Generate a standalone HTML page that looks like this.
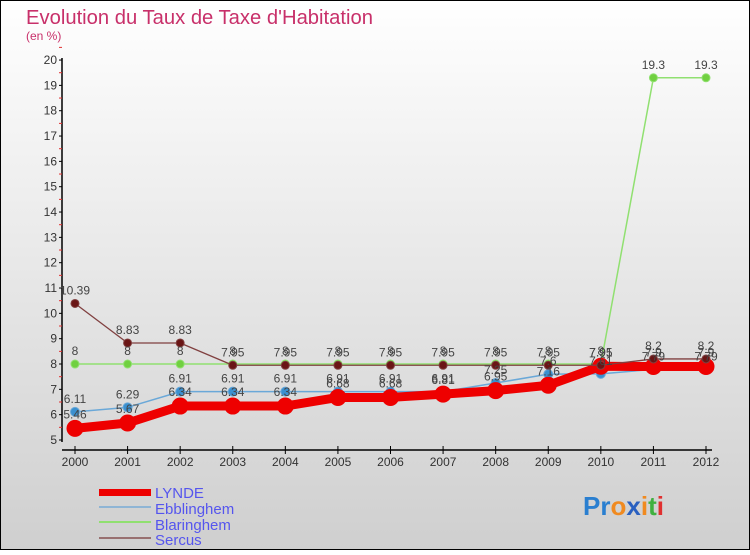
<!DOCTYPE html>
<html><head><meta charset="utf-8"><style>
html,body{margin:0;padding:0;}
body{width:750px;height:550px;overflow:hidden;font-family:"Liberation Sans",sans-serif;}
</style></head><body>
<svg id="chart" width="750" height="550" xmlns="http://www.w3.org/2000/svg" font-family="Liberation Sans, sans-serif">
<defs><linearGradient id="bg" x1="0" y1="0" x2="0" y2="1"><stop offset="0" stop-color="#ffffff"/><stop offset="1" stop-color="#cfcfcf"/></linearGradient></defs>
<rect x="0" y="0" width="750" height="550" fill="url(#bg)" stroke="#000" stroke-width="2"/>
<text x="26" y="24" font-size="20" fill="#c8306a" textLength="347" lengthAdjust="spacingAndGlyphs">Evolution du Taux de Taxe d'Habitation</text>
<text x="26" y="40" font-size="12" fill="#c8306a">(en %)</text>
<g id="axes"></g><g id="series"></g><g id="labels"></g>
<g>
<rect x="99" y="489" width="52" height="7" fill="#ee0000"/>
<line x1="99" y1="507" x2="151" y2="507" stroke="#8fb5d5" stroke-width="2"/>
<line x1="99" y1="522" x2="151" y2="522" stroke="#90e070" stroke-width="2"/>
<line x1="99" y1="538" x2="151" y2="538" stroke="#987070" stroke-width="2"/>
<text x="155" y="498" font-size="15" fill="#5555ee">LYNDE</text>
<text x="155" y="514" font-size="15" fill="#5555ee">Ebblinghem</text>
<text x="155" y="530" font-size="15" fill="#5555ee">Blaringhem</text>
<text x="155" y="545" font-size="15" fill="#5555ee">Sercus</text>
</g>
<text x="583" y="515" font-size="26" font-weight="bold"><tspan fill="#2a7fd0">Pr</tspan><tspan fill="#f08a20">o</tspan><tspan fill="#2a60c0">x</tspan><tspan fill="#f08a20">i</tspan><tspan fill="#40b040">t</tspan><tspan fill="#e03030">i</tspan></text>
</svg>
<script>
const years=[2000,2001,2002,2003,2004,2005,2006,2007,2008,2009,2010,2011,2012];
const yTicks=[5,6,7,8,9,10,11,12,13,14,15,16,17,18,19,20];
const lynde=[5.46,5.67,6.34,6.34,6.34,6.68,6.68,6.81,6.95,7.16,7.91,7.9,7.9];
const ebbl=[6.11,6.29,6.91,6.91,6.91,6.91,6.91,6.91,7.25,7.6,7.61,7.79,7.79];
const blar=[8,8,8,8,8,8,8,8,8,8,8,19.3,19.3];
const sercus=[10.39,8.83,8.83,7.95,7.95,7.95,7.95,7.95,7.95,7.95,7.95,8.2,8.2];
const lyndeLbl=["5.46","5.67","6.34","6.34","6.34","6.68","6.68","6.81","6.95","7.16","7.91","7.9","7.9"];
const ebblLbl=["6.11","6.29","6.91","6.91","6.91","6.91","6.91","6.91","7.25","7.6","7.61","7.79","7.79"];
const blarLbl=["8","8","8","8","8","8","8","8","8","8","8","19.3","19.3"];
const sercusLbl=["10.39","8.83","8.83","7.95","7.95","7.95","7.95","7.95","7.95","7.95","7.95","8.2","8.2"];
const NS="http://www.w3.org/2000/svg";
const X=i=>75+i*(706-75)/(years.length-1);
const Y=v=>440-(v-5)*25.33;
function mk(tag,attrs,parent){const e=document.createElementNS(NS,tag);for(const k in attrs)e.setAttribute(k,attrs[k]);document.getElementById(parent).appendChild(e);return e;}
let ax=mk('line',{x1:62,y1:Y(20)-2,x2:62,y2:Y(5)+2,stroke:'#000','stroke-width':1.5},'axes');


let bx=mk('line',{x1:62,y1:450,x2:712,y2:450,stroke:'#000','stroke-width':1.5},'axes');


yTicks.forEach(v=>{
  mk('line',{x1:59,y1:Y(v),x2:62,y2:Y(v),stroke:'#000'},'axes');
  mk('line',{x1:59,y1:Y(v+0.5),x2:62,y2:Y(v+0.5),stroke:'#e03030'},'axes');
  const t=mk('text',{x:57,y:Y(v)+4,'font-size':12,'text-anchor':'end',fill:'#333'},'axes');t.textContent=v;
  
  
});
years.forEach((yr,i)=>{
  mk('line',{x1:X(i),y1:446,x2:X(i),y2:454,stroke:'#000'},'axes');
  const t=mk('text',{x:X(i),y:466,'font-size':12,'text-anchor':'middle',fill:'#333'},'axes');t.textContent=yr;
  
  
});
function series(vals,lbls,color,dot,w,r,name,dy){
  const p=mk('polyline',{points:vals.map((v,i)=>X(i)+','+Y(v)).join(' '),fill:'none',stroke:color,'stroke-width':w,'stroke-linejoin':'round'},'series');
  
  
  vals.forEach((v,i)=>{
    const c=mk('circle',{cx:X(i),cy:Y(v),r:r,fill:dot,stroke:color,'stroke-width':1},'series');
    
    
    const t=mk('text',{x:X(i),y:Y(v)-dy,'font-size':12,'text-anchor':'middle',fill:'#444'},'labels');t.textContent=lbls[i];
    
    
  });
}
series(blar,blarLbl,'#90e070','#70d040',1.5,4,'blaringhem',9);
series(ebbl,ebblLbl,'#6aa8d8','#3a90d0',1.5,4.5,'ebblinghem',9);
series(lynde,lyndeLbl,'#ee0000','#ee0000',9,8,'lynde',10);
series(sercus,sercusLbl,'#804040','#6a1515',1.3,4,'sercus',9);
</script>
</body></html>
